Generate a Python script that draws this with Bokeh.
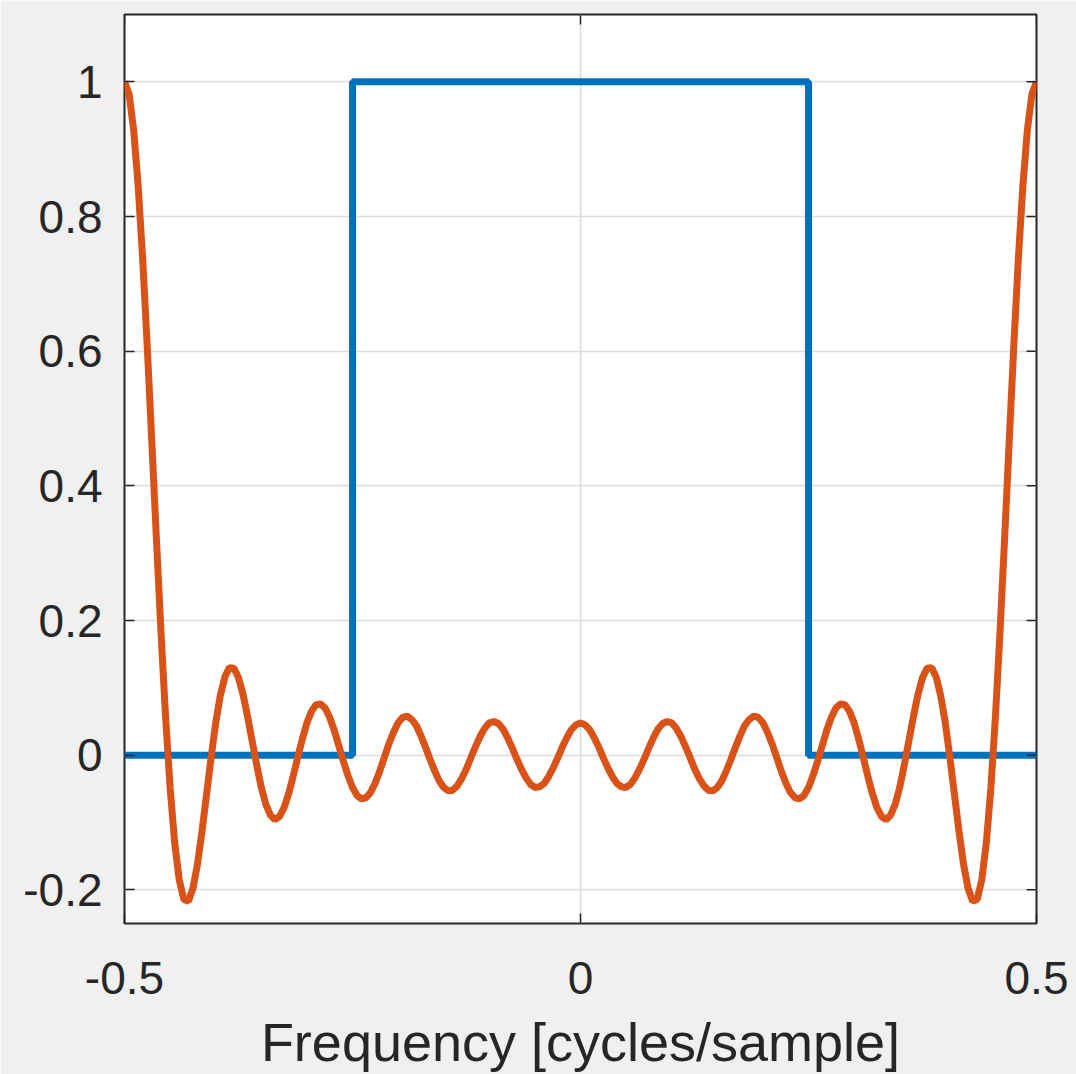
import numpy as np
from bokeh.plotting import figure
from bokeh.models import FixedTicker, Range1d
from bokeh.embed import file_html
from bokeh.resources import INLINE

# ideal low-pass response (blue)
ideal_freq = [-0.5, -0.25, -0.25, 0.25, 0.25, 0.5]
ideal_resp = [0, 0, 1, 1, 0, 0]

# measured response (orange), left half from f=-0.5 to f=0 in steps of 0.005 (symmetric)
resp_left = [
    1.000, 0.982, 0.929, 0.845, 0.735, 0.605, 0.464, 0.321, 0.183, 0.058,
    -0.048, -0.130, -0.185, -0.214, -0.217, -0.198, -0.162, -0.113, -0.058, -0.003,
    0.048, 0.088, 0.116, 0.130, 0.129, 0.115, 0.090, 0.057, 0.021, -0.015,
    -0.048, -0.073, -0.089, -0.096, -0.091, -0.078, -0.057, -0.031, -0.003, 0.024,
    0.048, 0.065, 0.075, 0.076, 0.070, 0.056, 0.037, 0.014, -0.009, -0.030,
    -0.048, -0.060, -0.065, -0.063, -0.055, -0.041, -0.023, -0.003, 0.017, 0.034,
    0.048, 0.056, 0.058, 0.053, 0.044, 0.029, 0.012, -0.006, -0.023, -0.038,
    -0.048, -0.053, -0.052, -0.045, -0.034, -0.020, -0.003, 0.013, 0.028, 0.040,
    0.048, 0.050, 0.047, 0.039, 0.026, 0.011, -0.005, -0.020, -0.033, -0.043,
    -0.048, -0.047, -0.042, -0.032, -0.019, -0.004, 0.012, 0.026, 0.038, 0.045,
    0.048,
]
resp = resp_left + resp_left[-2::-1]
freq = list(np.linspace(-0.5, 0.5, len(resp)))

x_ticks = [-0.5, 0, 0.5]
y_ticks = [-0.2, 0, 0.2, 0.4, 0.6, 0.8, 1.0]
y_labels = {-0.2: "-0.2", 0: "0", 0.2: "0.2", 0.4: "0.4", 0.6: "0.6", 0.8: "0.8", 1.0: "1"}
x_labels = {-0.5: "-0.5", 0: "0", 0.5: "0.5"}

X_MIN, X_MAX = -0.5, 0.5
Y_MIN, Y_MAX = -0.25, 1.1

FONT = "Liberation Sans"
AX = "#262626"

p = figure(width=1076, height=1074, output_backend="svg", toolbar_location=None,
           x_range=Range1d(X_MIN, X_MAX), y_range=Range1d(Y_MIN, Y_MAX),
           min_border_left=124, min_border_right=40, min_border_top=14, min_border_bottom=151)
p.background_fill_color = "white"
p.border_fill_color = "#f0f0f0"
p.outline_line_color = AX
p.outline_line_width = 2

p.xgrid.ticker = FixedTicker(ticks=x_ticks)
p.ygrid.ticker = FixedTicker(ticks=y_ticks)
p.xgrid.grid_line_color = "#dcdcdc"
p.ygrid.grid_line_color = "#dcdcdc"
p.xgrid.grid_line_width = 1.5
p.ygrid.grid_line_width = 1.5

p.line(ideal_freq, ideal_resp, color="#0072BD", line_width=7)
p.line(freq, resp, color="#D95319", line_width=7)

for ax, ticks, labels in [(p.xaxis[0], x_ticks, x_labels), (p.yaxis[0], y_ticks, y_labels)]:
    ax.ticker = FixedTicker(ticks=ticks)
    ax.major_label_overrides = labels
    ax.major_tick_in = 10
    ax.major_tick_out = 0
    ax.minor_tick_in = 0
    ax.minor_tick_out = 0
    ax.axis_line_color = None
    ax.major_tick_line_color = AX
    ax.major_tick_line_width = 1.5
    ax.major_label_text_font = FONT
    ax.major_label_text_font_size = "46px"
    ax.major_label_text_color = AX

p.xaxis[0].major_label_standoff = 38
p.yaxis[0].major_label_standoff = 22
p.xaxis[0].axis_label = "Frequency [cycles/sample]"
p.xaxis[0].axis_label_text_font = FONT
p.xaxis[0].axis_label_text_font_size = "54px"
p.xaxis[0].axis_label_text_font_style = "normal"
p.xaxis[0].axis_label_text_color = AX
p.xaxis[0].axis_label_standoff = 15

# inward ticks on the right and top edges of the box
p.ray(x=[X_MAX] * len(y_ticks), y=y_ticks, length=10, length_units="screen",
      angle=np.pi, line_color=AX, line_width=1.5)
p.ray(x=x_ticks, y=[Y_MAX] * len(x_ticks), length=10, length_units="screen",
      angle=-np.pi / 2, line_color=AX, line_width=1.5)

open("out.html", "w").write(file_html(p, INLINE))
